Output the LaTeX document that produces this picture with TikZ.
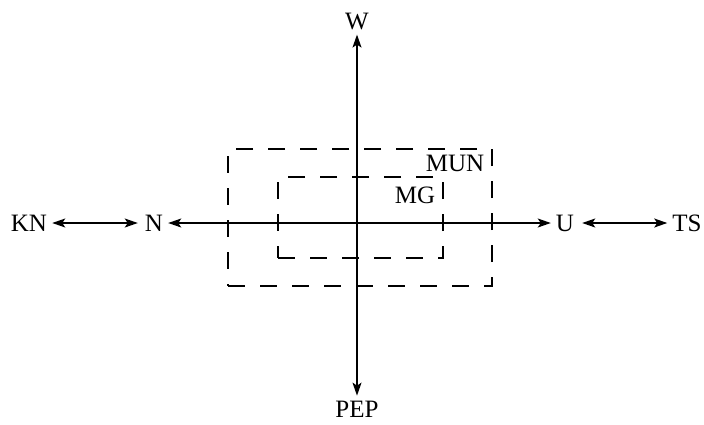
\documentclass[tikz,border=0pt]{standalone}
\usepackage{fontspec}
\setmainfont{Liberation Serif}
\usetikzlibrary{arrows.meta, positioning}

\begin{document}
\begin{tikzpicture}[
  x=1pt, y=-1pt,
  font=\fontsize{25}{29}\selectfont,
  lbl/.style={inner sep=5pt},
  axis/.style={{Stealth[length=13pt,width=9pt,inset=3pt]}-{Stealth[length=13pt,width=9pt,inset=3pt]}, line width=1.3pt},
  zone/.style={draw, dash pattern=on 17pt off 15pt, line width=2.5pt, inner sep=0pt},
]
\useasboundingbox (0,0) rectangle (704,424);

% axis labels
\node[lbl] (w)   at (357,21)  {W};
\node[lbl] (pep) at (357,409) {PEP};
\node[lbl] (n)   at (154,223) {N};
\node[lbl] (u)   at (565,223) {U};
\node[lbl] (kn)  at (29,223)  {KN};
\node[lbl] (ts)  at (687,223) {TS};

% dashed zones
\node[zone, minimum width=264pt, minimum height=137pt] (mun) at (360,217.5) {};
\node[zone, minimum width=165pt, minimum height=81pt]  (mg)  at (360.5,217.5) {};
\node[inner sep=0pt] (munlbl) at (455,163) {MUN};
\node[inner sep=0pt] (mglbl)  at (415,195) {MG};

% arrows
\draw[axis] (w) -- (pep);
\draw[axis] (n) -- (u);
\draw[axis, shorten >=2pt] (kn) -- (n);
\draw[axis, shorten <=3pt] (u) -- (ts);
\end{tikzpicture}
\end{document}
